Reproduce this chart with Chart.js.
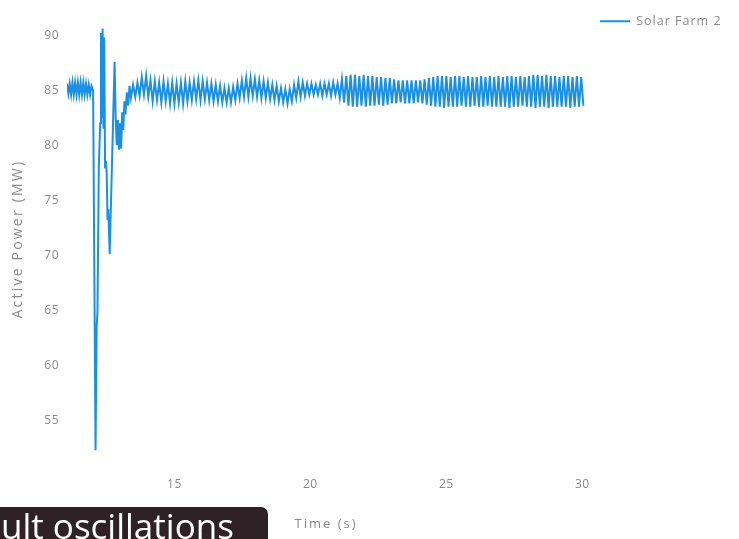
<!DOCTYPE html>
<html><head><meta charset="utf-8">
<script src="https://cdn.jsdelivr.net/npm/chart.js@4.4.1/dist/chart.umd.min.js"></script>
<style>
html,body{margin:0;padding:0;background:#fff;overflow:hidden;}
#wrap{position:relative;width:739px;height:539px;}
#caption{position:absolute;left:0;top:507px;width:268px;height:40px;background:#2e2227;border-radius:0 7px 0 0;color:#fff;font-family:"Open Sans",sans-serif;font-size:35px;line-height:35px;padding-left:1px;padding-top:1px;box-sizing:border-box;white-space:nowrap;overflow:hidden;}
</style></head><body>
<div id="wrap"><canvas id="c" width="739" height="539"></canvas><div id="caption">ult oscillations</div></div>
<script>
const seriesName = 'Solar Farm 2';
const xTicks = [15, 20, 25, 30];
const yTicks = [55, 60, 65, 70, 75, 80, 85, 90];

// pre-fault, fault and recovery (s / MW)
const faultTimes = [11.05,11.10,11.15,11.20,11.25,11.30,11.35,11.40,11.45,11.50,11.55,11.60,11.65,11.70,11.75,11.80,11.85,11.90,11.95,12.01,
  12.10,12.14,12.17,12.22,12.27,12.30,12.33,12.36,12.39,12.42,12.45,12.48,12.51,12.54,12.57,12.62,
  12.80,12.84,12.88,12.92,12.96,13.00,13.04,13.08,13.12,13.16,13.20,13.25,13.30,13.35];
const faultPower = [85.6,84.7,85.6,84.6,85.7,84.6,85.7,84.6,85.7,84.6,85.7,84.6,85.7,84.6,85.6,84.6,85.5,84.6,85.4,85.0,
  52.3,63.5,64.8,78.0,82.0,90.2,82.5,90.6,81.5,89.8,78.0,78.6,77.5,73.2,74.2,70.1,
  87.6,82.5,80.0,82.3,79.6,82.0,79.7,83.0,81.4,84.0,82.8,84.8,83.6,85.4];

// post-fault oscillations (s / MW)
const settleTimes = [
  13.40,13.48,13.56,13.64,13.72,13.80,13.88,13.96,14.04,14.12,
  14.20,14.28,14.36,14.44,14.52,14.60,14.68,14.76,14.84,14.92,
  15.00,15.08,15.16,15.24,15.32,15.40,15.48,15.56,15.64,15.72,
  15.80,15.88,15.96,16.04,16.12,16.20,16.28,16.36,16.44,16.52,
  16.60,16.68,16.76,16.84,16.92,17.00,17.08,17.16,17.24,17.32,
  17.40,17.48,17.56,17.64,17.72,17.80,17.88,17.96,18.04,18.12,
  18.20,18.28,18.36,18.44,18.52,18.60,18.68,18.76,18.84,18.92,
  19.00,19.08,19.16,19.24,19.32,19.40,19.48,19.56,19.64,19.72,
  19.80,19.88,19.96,20.04,20.12,20.20,20.28,20.36,20.44,20.52,
  20.60,20.68,20.76,20.84,20.92,21.00,21.08,21.16,21.24,21.32,
  21.40,21.48,21.56,21.64,21.72,21.80,21.88,21.96,22.04,22.12,
  22.20,22.28,22.36,22.44,22.52,22.60,22.68,22.76,22.84,22.92,
  23.00,23.08,23.16,23.24,23.32,23.40,23.48,23.56,23.64,23.72,
  23.80,23.88,23.96,24.04,24.12,24.20,24.28,24.36,24.44,24.52,
  24.60,24.68,24.76,24.84,24.92,25.00,25.08,25.16,25.24,25.32,
  25.40,25.48,25.56,25.64,25.72,25.80,25.88,25.96,26.04,26.12,
  26.20,26.28,26.36,26.44,26.52,26.60,26.68,26.76,26.84,26.92,
  27.00,27.08,27.16,27.24,27.32,27.40,27.48,27.56,27.64,27.72,
  27.80,27.88,27.96,28.04,28.12,28.20,28.28,28.36,28.44,28.52,
  28.60,28.68,28.76,28.84,28.92,29.00,29.08,29.16,29.24,29.32,
  29.40,29.48,29.56,29.64,29.72,29.80,29.88,29.96,30.04];
const settlePower = [
  84.3,85.5,84.4,85.7,84.5,86.2,84.6,86.3,84.4,85.9,
  84.0,85.8,84.1,85.7,83.9,85.8,84.0,85.6,83.8,85.7,
  83.8,85.6,83.9,85.7,83.8,85.8,84.0,85.7,84.1,85.8,
  84.2,85.9,84.1,85.8,84.2,85.7,84.1,85.6,84.0,85.5,
  84.0,85.4,83.9,85.2,83.9,85.2,83.9,85.3,84.1,85.6,
  84.3,85.9,84.4,86.1,84.4,86.1,84.5,86.0,84.4,85.9,
  84.3,85.8,84.3,85.7,84.2,85.5,84.1,85.4,84.0,85.2,
  83.9,85.1,83.8,85.1,84.0,85.5,84.3,85.8,84.4,85.7,
  84.5,85.6,84.6,85.6,84.6,85.5,84.6,85.6,84.5,85.6,
  84.6,85.6,84.5,85.7,84.6,85.6,84.3,86.0,83.9,86.3,
  83.6,86.4,83.5,86.4,83.5,86.3,83.6,86.4,83.5,86.3,
  83.6,86.3,83.6,86.2,83.7,86.2,83.6,86.1,83.7,86.1,
  83.8,86.0,83.8,85.9,83.9,85.9,83.8,85.9,83.8,85.9,
  83.8,85.9,83.9,85.9,83.8,86.0,83.7,86.1,83.6,86.2,
  83.5,86.3,83.5,86.3,83.4,86.3,83.5,86.2,83.5,86.3,
  83.5,86.3,83.6,86.2,83.5,86.3,83.5,86.2,83.6,86.2,
  83.5,86.3,83.5,86.2,83.6,86.3,83.5,86.2,83.5,86.3,
  83.5,86.2,83.5,86.3,83.4,86.3,83.5,86.2,83.5,86.3,
  83.6,86.2,83.5,86.3,83.5,86.4,83.4,86.4,83.5,86.3,
  83.5,86.4,83.4,86.3,83.5,86.3,83.5,86.2,83.5,86.3,
  83.5,86.3,83.4,86.2,83.5,86.3,83.5,86.2,83.6];

const allTimes = faultTimes.concat(settleTimes);
const allPower = faultPower.concat(settlePower);
const points = allTimes.map((t, i) => ({x: t, y: allPower[i]}));

const lineColor = '#1b90e2';
const textColor = '#8a8a8a';
Chart.defaults.font.family = '"Open Sans", sans-serif';
Chart.defaults.color = textColor;

// letter spacing per text size (ticks 12px, legend 12.5px, x title 13px, y title 14px)
const spacingBySize = {'12': '0.5px', '12.5': '1px', '13': '2px', '14': '2.2px'};
['fillText', 'measureText'].forEach(fn => {
  const orig = CanvasRenderingContext2D.prototype[fn];
  CanvasRenderingContext2D.prototype[fn] = function (...args) {
    const m = /([\d.]+)px/.exec(this.font);
    if ('letterSpacing' in this) this.letterSpacing = (m && spacingBySize[m[1]]) || '0px';
    return orig.apply(this, args);
  };
});

const fixLegend = {
  id: 'fixLegend',
  beforeLayout(chart) {
    const lg = chart.legend;
    if (lg && !lg._patched) {
      const f = lg.fit.bind(lg);
      lg.fit = function () { f(); this.width = 154; };
      lg._patched = true;
    }
  }
};

new Chart(document.getElementById('c'), {
  type: 'line',
  data: {
    datasets: [{
      label: seriesName,
      data: points,
      borderColor: lineColor,
      backgroundColor: lineColor,
      borderWidth: 2,
      pointRadius: 0,
      tension: 0,
      fill: false
    }]
  },
  plugins: [fixLegend],
  options: {
    responsive: false,
    animation: false,
    events: [],
    layout: {padding: {top: 0, left: 0, right: 0, bottom: 0}},
    plugins: {
      legend: {
        position: 'right',
        align: 'start',
        labels: {
          usePointStyle: true,
          pointStyle: 'line',
          pointStyleWidth: 30,
          padding: 15,
          color: textColor,
          font: {size: 12.5}
        }
      },
      tooltip: {enabled: false}
    },
    scales: {
      x: {
        type: 'linear',
        min: 11.05,
        max: 30.1,
        grid: {display: false, drawTicks: false},
        border: {display: false},
        ticks: {padding: 14.8, font: {size: 12}, color: textColor},
        afterBuildTicks: s => { s.ticks = xTicks.map(v => ({value: v})); },
        title: {display: true, text: 'Time (s)', color: textColor, font: {size: 13}, padding: {top: 9.2, bottom: 7.2}}
      },
      y: {
        type: 'linear',
        min: 51.14,
        max: 91.82,
        grid: {display: false, drawTicks: false},
        border: {display: false},
        ticks: {padding: 8, font: {size: 12}, color: textColor},
        afterBuildTicks: s => { s.ticks = yTicks.map(v => ({value: v})); },
        afterFit: s => { s.width = 67; },
        title: {display: true, text: 'Active Power (MW)', color: textColor, font: {size: 14}, padding: {top: 10, bottom: 0}}
      }
    }
  }
});
</script>
</body></html>
